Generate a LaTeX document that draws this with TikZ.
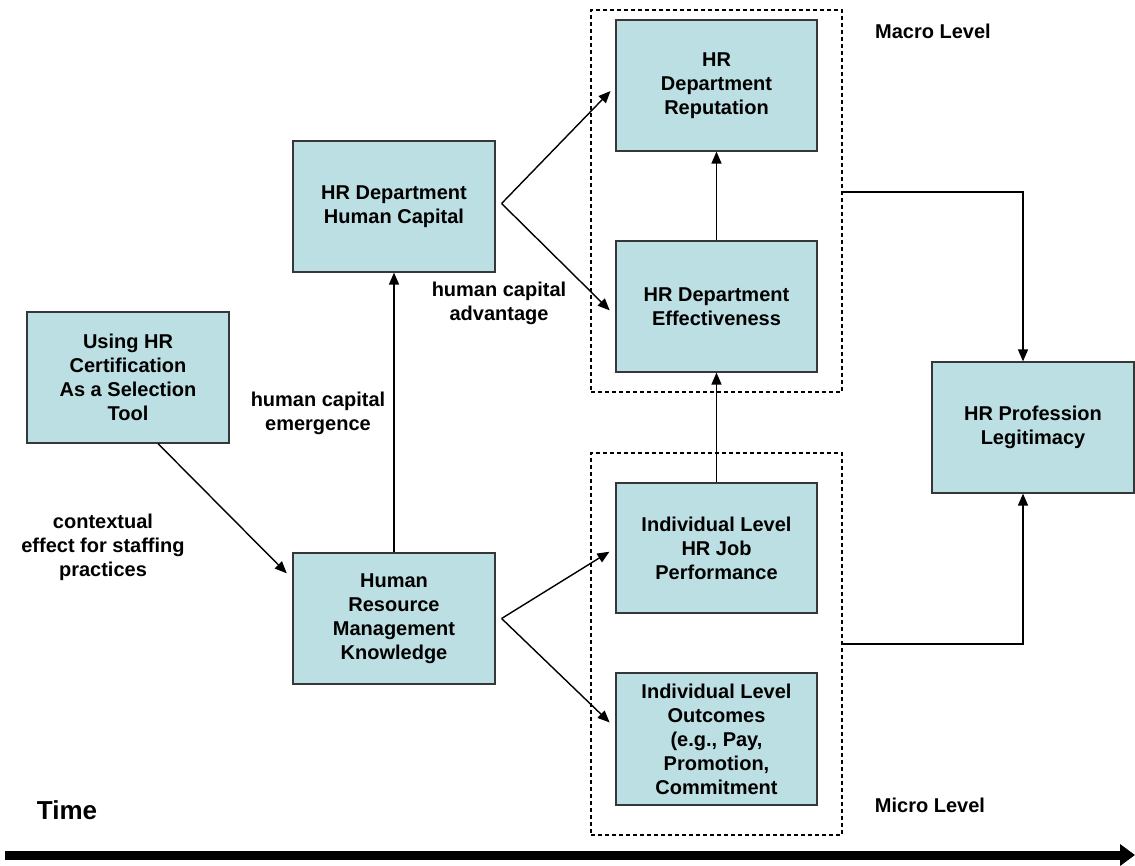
\documentclass[tikz,border=0pt]{standalone}
\usepackage{fontspec}
\setmainfont{Liberation Sans}
\usetikzlibrary{arrows.meta,calc}
\definecolor{boxfill}{RGB}{188,223,227}
\definecolor{boxline}{RGB}{55,55,55}
\tikzset{
  box/.style={draw=boxline, line width=1.2pt, fill=boxfill, minimum width=202pt, minimum height=131pt,
    align=center, inner sep=2pt, font=\fontsize{20}{24}\selectfont\bfseries},
  dashbox/.style={draw=black, line width=1.2pt, dash pattern=on 4pt off 3pt, minimum width=251pt, minimum height=382pt, inner sep=0pt},
  lbl/.style={align=center, font=\fontsize{20}{24}\selectfont\bfseries, inner sep=0pt},
  arr/.style={draw=black, line width=1.4pt, -{Triangle[length=12pt,width=10pt]}},
  conn/.style={draw=black, line width=1.4pt}
}
\begin{document}
\begin{tikzpicture}[x=1pt,y=-1pt]
\useasboundingbox (0,0) rectangle (1135,865);
% dashed level boxes
\node[dashbox] (macro) at (716.5,201) {};
\node[dashbox] (micro) at (716.5,644) {};
% boxes
\node[box] (cert) at (128,377.5) {Using HR\\Certification\\As a Selection\\Tool};
\node[box] (hc) at (394,206.5) {HR Department\\Human Capital};
\node[box] (hrm) at (394,618.5) {Human\\Resource\\Management\\Knowledge};
\node[box, minimum width=201pt] (rep) at (716.5,85.5) {HR\\Department\\Reputation};
\node[box, minimum width=201pt] (eff) at (716.5,306.5) {HR Department\\Effectiveness};
\node[box, minimum width=201pt, minimum height=130pt] (job) at (716.5,548) {Individual Level\\HR Job\\Performance};
\node[box, minimum width=201pt, minimum height=132pt] (out) at (716.5,739) {Individual Level\\Outcomes\\ (e.g., Pay,\\Promotion,\\Commitment};
\node[box] (leg) at (1033,427.5) {HR Profession\\Legitimacy};
% labels
\node[lbl] (ctx) at (103,547) {contextual\\effect for staffing\\practices};
\node[lbl] (emerg) at (318,413) {human capital\\emergence};
\node[lbl] (adv) at (499,303) {human capital\\advantage};
\node[lbl] (macrolbl) at (933,31) {Macro Level};
\node[lbl] (microlbl) at (930,805) {Micro Level};
\node[lbl, font=\fontsize{26}{30}\selectfont\bfseries] (time) at (67,810) {Time};
% fork points
\coordinate (hcf) at ($(hc.east)+(6,-3)$);
\coordinate (hrmf) at ($(hrm.east)+(6,0)$);
% connectors
\draw[arr, shorten >=7pt] (hcf) -- ($(rep.west)+(0,0.5)$);
\draw[arr, shorten >=8pt] (hcf) -- ($(eff.west)+(0,9.5)$);
\draw[arr] (eff.north) -- (rep.south);
\draw[arr] (job.north) -- (eff.south);
\draw[arr] (hrm.north) -- (hc.south);
\draw[arr, shorten >=8pt] ($(cert.south)+(30,0)$) -- ($(hrm.west)+(0,-39.5)$);
\draw[arr, shorten >=7pt] (hrmf) -- (job.west);
\draw[arr, shorten >=8pt] (hrmf) -- ($(out.west)+(0,-11)$);
\draw[arr] ($(macro.east)+(0,-9)$) -| ($(leg.north)+(-10,0)$);
\draw[arr] (micro.east) -| ($(leg.south)+(-10,0)$);
% time arrow
\coordinate (ts) at (5,855);
\coordinate (te) at (1135,855);
\draw[line width=9pt, -{Triangle[length=15pt,width=21pt]}] (ts) -- (te);
\end{tikzpicture}
\end{document}
